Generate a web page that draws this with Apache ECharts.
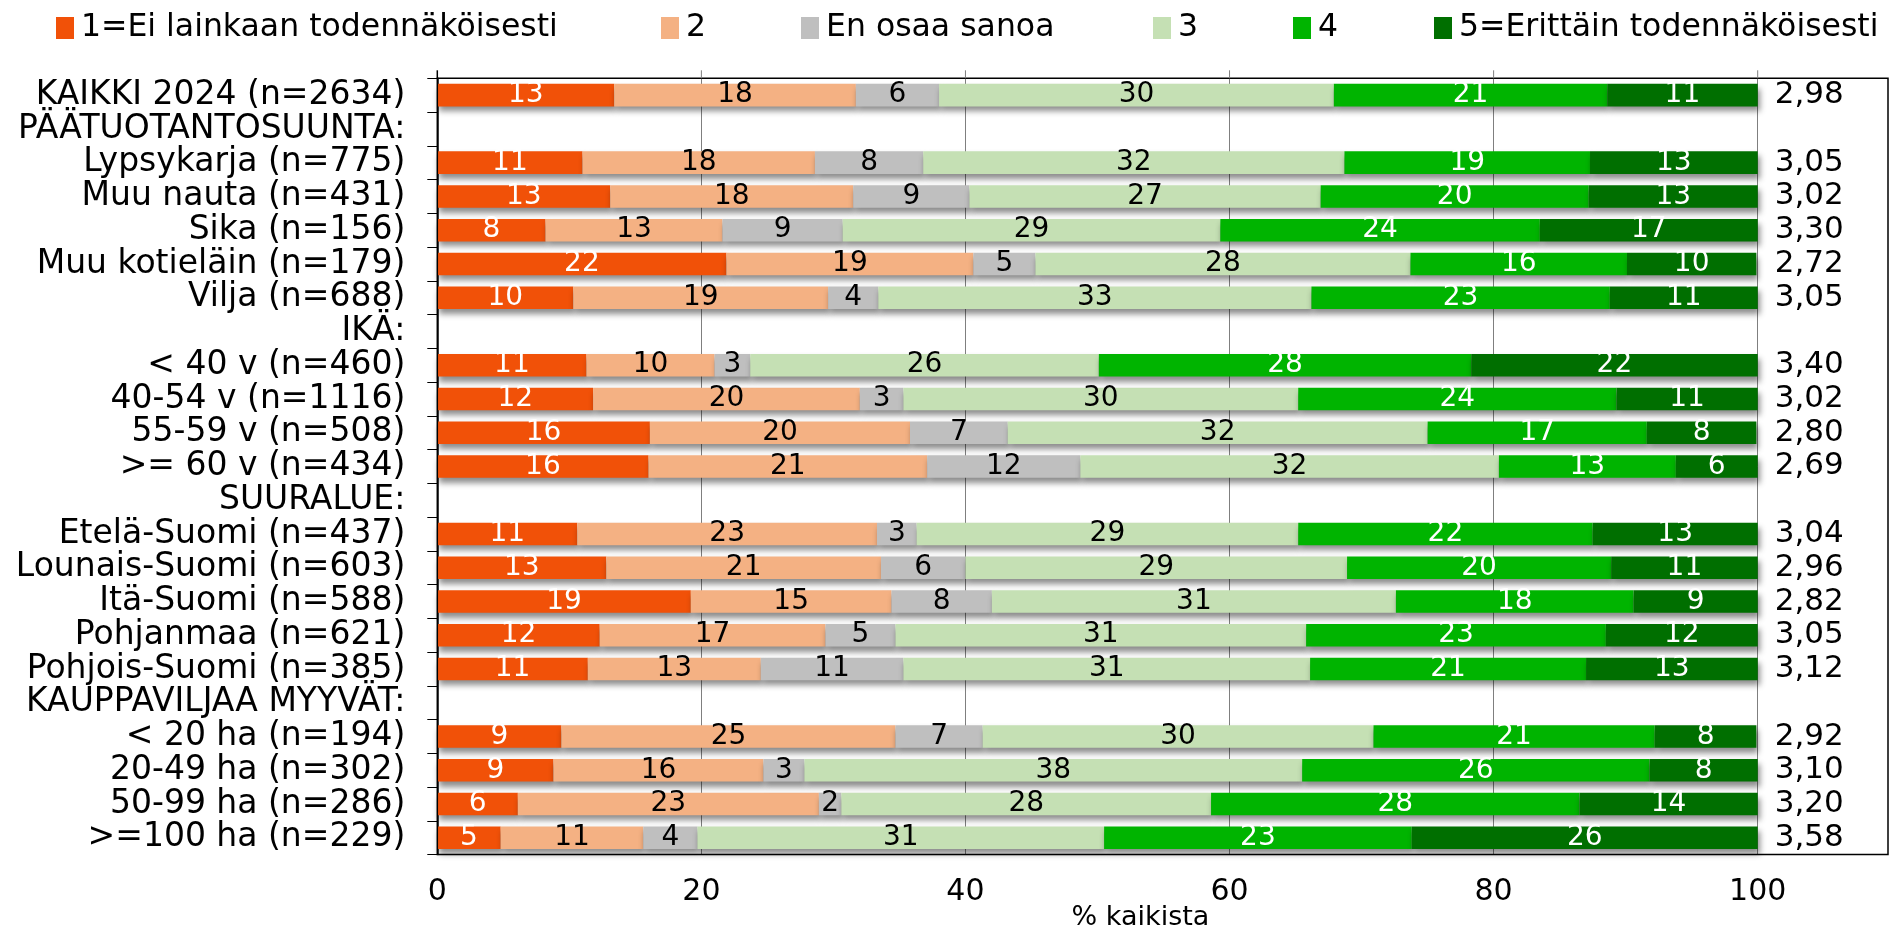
<!DOCTYPE html>
<html>
<head>
<meta charset="utf-8">
<title>Todennäköisyys</title>
<script src="https://cdn.jsdelivr.net/npm/echarts@6/dist/echarts.min.js"></script>
<style>
  html, body { margin: 0; padding: 0; background: #fff; }
  #chart { width: 1890px; height: 931px; }
</style>
</head>
<body>
<div id="chart"></div>
<script>
// Rows of the chart, top to bottom (header rows carry no values)
const categories = [
  'KAIKKI 2024 (n=2634)',
  'PÄÄTUOTANTOSUUNTA:',
  'Lypsykarja (n=775)',
  'Muu nauta (n=431)',
  'Sika (n=156)',
  'Muu kotieläin (n=179)',
  'Vilja (n=688)',
  'IKÄ:',
  '< 40 v (n=460)',
  '40-54 v (n=1116)',
  '55-59 v (n=508)',
  '>= 60 v (n=434)',
  'SUURALUE:',
  'Etelä-Suomi (n=437)',
  'Lounais-Suomi (n=603)',
  'Itä-Suomi (n=588)',
  'Pohjanmaa (n=621)',
  'Pohjois-Suomi (n=385)',
  'KAUPPAVILJAA MYYVÄT:',
  '< 20 ha (n=194)',
  '20-49 ha (n=302)',
  '50-99 ha (n=286)',
  '>=100 ha (n=229)'
];

const seriesNames = [
  '1=Ei lainkaan todennäköisesti',
  '2',
  'En osaa sanoa',
  '3',
  '4',
  '5=Erittäin todennäköisesti'
];

// Shares of answers, % of all respondents
const answer1 = [13.4, null, 11.0, 13.1, 8.2, 21.9, 10.3, null, 11.3, 11.8, 16.1, 16.0, null, 10.6, 12.8, 19.2, 12.3, 11.4, null, 9.4, 8.8, 6.1, 4.8];
const answer2 = [18.3, null, 17.6, 18.4, 13.4, 18.7, 19.3, null, 9.7, 20.2, 19.7, 21.1, null, 22.7, 20.8, 15.2, 17.1, 13.1, null, 25.3, 15.9, 22.8, 10.8];
const answerDontKnow = [6.3, null, 8.2, 8.8, 9.1, 4.7, 3.8, null, 2.7, 3.3, 7.4, 11.6, null, 3.0, 6.4, 7.6, 5.3, 10.8, null, 6.6, 3.1, 1.7, 4.1];
const answer3 = [29.9, null, 31.9, 26.6, 28.6, 28.4, 32.8, null, 26.4, 29.9, 31.8, 31.7, null, 28.9, 28.9, 30.6, 31.1, 30.8, null, 29.6, 37.7, 28.0, 30.8];
const answer4 = [20.7, null, 18.6, 20.3, 24.2, 16.4, 22.6, null, 28.2, 24.1, 16.6, 13.4, null, 22.3, 20.0, 18.0, 22.7, 20.9, null, 21.3, 26.3, 27.9, 23.3];
const answer5 = [11.4, null, 12.8, 12.9, 16.6, 9.8, 11.2, null, 21.7, 10.7, 8.3, 6.2, null, 12.6, 11.2, 9.4, 11.7, 13.0, null, 7.7, 8.2, 13.6, 26.2];

// Mean answer on the 1–5 scale
const means = [2.98, null, 3.05, 3.02, 3.30, 2.72, 3.05, null, 3.40, 3.02, 2.80, 2.69, null, 3.04, 2.96, 2.82, 3.05, 3.12, null, 2.92, 3.10, 3.20, 3.58];

const xTicks = [0, 20, 40, 60, 80, 100];
const xAxisTitle = '% kaikista';

const seriesData = [answer1, answer2, answerDontKnow, answer3, answer4, answer5];
const colors = ['#F15108', '#F4B183', '#BFBFBF', '#C5E0B4', '#00B400', '#006F00'];
const labelColors = ['#FFFFFF', '#000000', '#000000', '#000000', '#FFFFFF', '#FFFFFF'];

const FONT = "'DejaVu Sans', Verdana, sans-serif";
const GRID = { left: 437.3, top: 78.3, width: 1320.4, height: 776.3 };
const BOX_RIGHT = 1888;
// Left edge of each legend entry along the top row
const LEGEND_LEFT = [51, 656, 796, 1148, 1288, 1429];

const chart = echarts.init(document.getElementById('chart'), null, { renderer: 'canvas' });

const series = seriesData.map((data, i) => ({
  type: 'bar',
  name: seriesNames[i],
  stack: 'total',
  data: data,
  barWidth: '67%',
  itemStyle: {
    color: colors[i],
    shadowColor: 'rgba(0,0,0,0.45)',
    shadowBlur: 6,
    shadowOffsetX: 2,
    shadowOffsetY: 5
  },
  label: {
    show: true,
    position: 'inside',
    color: labelColors[i],
    fontFamily: FONT,
    fontSize: 28,
    formatter: p => (p.value == null ? '' : String(Math.round(p.value)))
  },
  emphasis: { disabled: true }
}));

const legends = seriesNames.map((name, i) => ({
  data: [name],
  left: LEGEND_LEFT[i],
  top: 7,
  icon: 'rect',
  itemWidth: 18,
  itemHeight: 22,
  textStyle: {
    fontFamily: FONT,
    fontSize: 31.5,
    color: '#000',
    padding: [0, 0, 0, 2]
  },
  selectedMode: false
}));

chart.setOption({
  animation: false,
  backgroundColor: '#FFFFFF',
  color: colors,
  legend: legends,
  grid: {
    left: GRID.left,
    top: GRID.top,
    width: GRID.width,
    height: GRID.height,
    containLabel: false,
    outerBoundsMode: 'none'
  },
  xAxis: {
    type: 'value',
    min: xTicks[0],
    max: xTicks[xTicks.length - 1],
    interval: xTicks[1] - xTicks[0],
    axisLine: { show: false },
    axisTick: { show: false },
    axisLabel: {
      fontFamily: FONT,
      fontSize: 30,
      color: '#000',
      margin: 23
    },
    splitLine: { show: true, lineStyle: { color: '#7F7F7F', width: 1 } },
    name: xAxisTitle,
    nameLocation: 'middle',
    nameGap: 50,
    nameMoveOverlap: false,
    nameTextStyle: {
      fontFamily: FONT,
      fontSize: 27,
      color: '#000',
      padding: [0, 0, 0, 86]
    }
  },
  yAxis: [
    {
      type: 'category',
      data: categories,
      inverse: true,
      axisLine: { show: true, lineStyle: { color: '#000', width: 1.5 } },
      axisTick: { show: true, length: 10, lineStyle: { color: '#000', width: 1 } },
      axisLabel: {
        fontFamily: FONT,
        fontSize: 33,
        color: '#000',
        margin: 32,
        interval: 0
      },
      splitLine: { show: false }
    },
    {
      type: 'category',
      data: means.map(m => (m == null ? '' : m.toFixed(2).replace('.', ','))),
      inverse: true,
      position: 'right',
      axisLine: { show: false },
      axisTick: { show: false },
      axisLabel: {
        fontFamily: FONT,
        fontSize: 31,
        color: '#000',
        margin: 17,
        align: 'left',
        interval: 0
      },
      splitLine: { show: false }
    }
  ],
  series: series
});

// Frame round the plot and the mean column, plus the short grid-line stubs above it
const frameTop = GRID.top;
const frameBottom = GRID.top + GRID.height;
const elements = [
  {
    type: 'rect',
    shape: { x: GRID.left, y: frameTop, width: BOX_RIGHT - GRID.left, height: frameBottom - frameTop },
    style: { fill: 'none', stroke: '#000', lineWidth: 1.5 },
    silent: true,
    z: 10
  }
];
xTicks.forEach(v => {
  const x = chart.convertToPixel({ xAxisIndex: 0 }, v);
  elements.push({
    type: 'line',
    shape: { x1: x, y1: frameTop - 8, x2: x, y2: frameTop },
    style: { stroke: v === 0 ? '#000' : '#7F7F7F', lineWidth: v === 0 ? 1.5 : 1 },
    silent: true,
    z: 10
  });
});
chart.setOption({ graphic: { elements: elements } });
</script>
</body>
</html>
